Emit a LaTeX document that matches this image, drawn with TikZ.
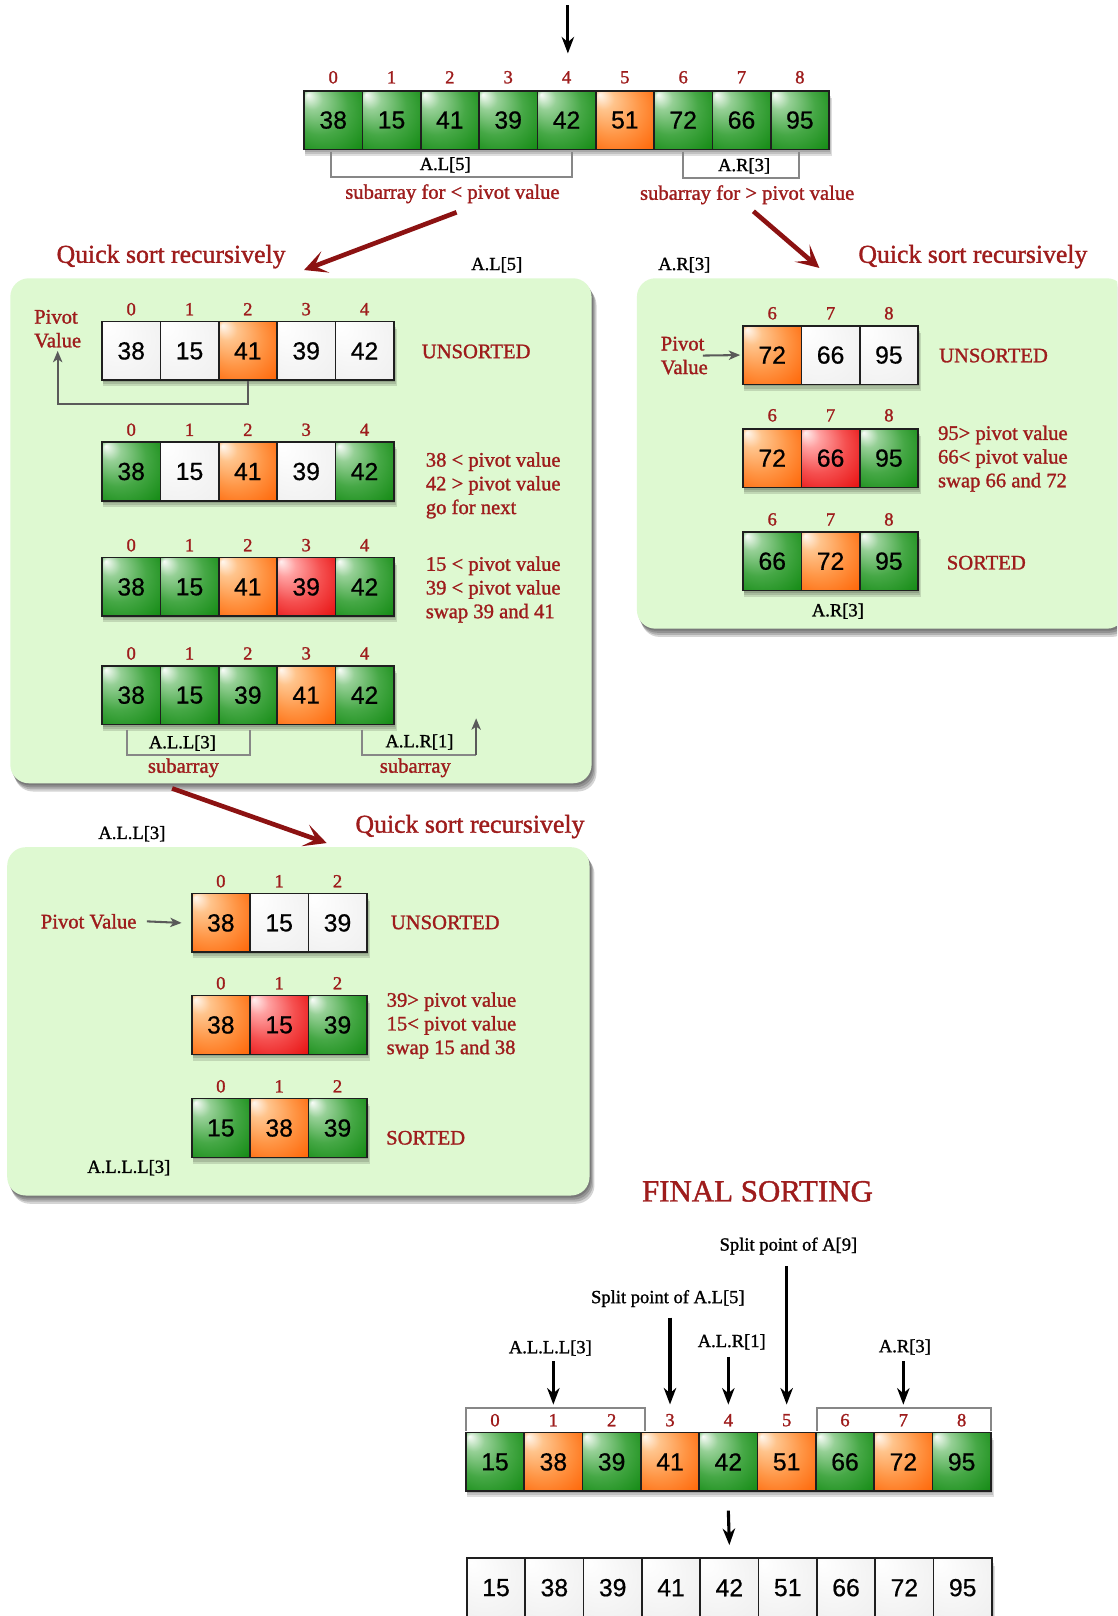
\documentclass[tikz,border=0pt]{standalone}
\usepackage{fontspec}
\setmainfont{Liberation Serif}[FakeBold=1.3]
\newfontfamily\cellfont{Liberation Sans}[FakeBold=0.6]
\usetikzlibrary{arrows.meta,calc}
\definecolor{dred}{RGB}{158,28,28}
\definecolor{arrred}{RGB}{140,18,18}
\definecolor{panelg}{RGB}{222,249,209}
\definecolor{brk}{RGB}{135,135,135}
\definecolor{garr}{RGB}{90,90,90}
\definecolor{gA}{RGB}{250,253,250}
\definecolor{gB}{RGB}{150,208,150}
\definecolor{gC}{RGB}{70,168,70}
\definecolor{gD}{RGB}{22,140,22}
\definecolor{oA}{RGB}{255,248,240}
\definecolor{oB}{RGB}{255,196,140}
\definecolor{oC}{RGB}{255,150,70}
\definecolor{oD}{RGB}{255,104,10}
\definecolor{rA}{RGB}{255,240,240}
\definecolor{rB}{RGB}{255,160,160}
\definecolor{rC}{RGB}{245,80,80}
\definecolor{rD}{RGB}{232,20,20}
\definecolor{wA}{RGB}{255,255,255}
\definecolor{wB}{RGB}{247,247,247}
\definecolor{wC}{RGB}{236,236,236}
\pgfdeclareradialshading{shG}{\pgfpoint{-22bp}{22bp}}{color(0bp)=(gA); color(9bp)=(gB); color(24bp)=(gC); color(40bp)=(gD); color(50bp)=(gD)}
\pgfdeclareradialshading{shO}{\pgfpoint{-22bp}{22bp}}{color(0bp)=(oA); color(9bp)=(oB); color(24bp)=(oC); color(40bp)=(oD); color(50bp)=(oD)}
\pgfdeclareradialshading{shR}{\pgfpoint{-22bp}{22bp}}{color(0bp)=(rA); color(9bp)=(rB); color(24bp)=(rC); color(40bp)=(rD); color(50bp)=(rD)}
\pgfdeclareradialshading{shW}{\pgfpoint{-22bp}{22bp}}{color(0bp)=(wA); color(20bp)=(wB); color(50bp)=(wC)}
\tikzset{
  cellbase/.style={draw=black!88, line width=1.6pt, minimum width=56.6pt, minimum height=57pt, inner sep=0pt, font=\cellfont\fontsize{24}{28}\selectfont},
  idx/.style={text=dred, font=\fontsize{18}{20}\selectfont, inner sep=0pt},
  rtxt/.style={text=dred, font=\fontsize{20}{23}\selectfont, inner sep=0pt, align=left},
  btxt/.style={text=black, font=\fontsize{18}{20}\selectfont, inner sep=0pt},
  qsr/.style={text=dred, font=\fontsize{25}{28}\selectfont, inner sep=0pt},
  brack/.style={draw=brk, line width=2pt},
  barr/.style={draw=black, line width=3pt, -{Stealth[length=16pt,width=12pt,inset=5pt]}},
  rarr/.style={draw=arrred, line width=4.5pt, -{Stealth[length=22pt,width=22pt,inset=11pt]}},
  garrow/.style={draw=garr, line width=2pt, -{Stealth[length=11pt,width=9pt,inset=3pt]}},
  panelbox/.style={fill=panelg, rounded corners=18pt},
}
\newcommand\cellrow[6]{%
  \foreach \dd in {2,4,6}{\fill[black,opacity=0.13] ({#2+1},{#3+\dd+1}) rectangle ({#2+#5*56.6+0.5*\dd},{#3+57+\dd});}%
  \foreach \v/\s/\ix [count=\k] in {#6}{%
    \node[cellbase, shade, shading=sh\s] (#1-\k) at ({#2+(\k-0.5)*56.6},{#3+28.5}) {\v};%
    \node[idx] (#1-i\k) at ({#2+(\k-0.5)*56.6},{#4}) {\ix};%
  }%
}
\newcommand\plainrow[5]{%
  \foreach \dd in {2,4,6}{\fill[black,opacity=0.13] ({#2+1},{#3+\dd+1}) rectangle ({#2+#4*56.6+0.5*\dd},{#3+57+\dd});}%
  \foreach \v [count=\k] in {#5}{%
    \node[cellbase, shade, shading=shW] (#1-\k) at ({#2+(\k-0.5)*56.6},{#3+28.5}) {\v};%
  }%
}
\newcommand\panelshadow[4]{%
  \foreach \dd in {2,4,6,8}{\fill[black,opacity=0.17,rounded corners=18pt] ({#1+0.5*\dd},{#2+\dd}) rectangle ({#3+0.6*\dd},{#4+\dd});}%
}
\begin{document}
\begin{tikzpicture}[x=1pt,y=-1pt]
\clip (0,0) rectangle (1084,1568);
\fill[white] (0,0) rectangle (1084,1568);

% ---------- panels ----------
\panelshadow{10}{270}{574}{760}
\fill[panelbox] (10,270) rectangle (574,760);
\panelshadow{618}{270}{1092}{610}
\fill[panelbox] (618,270) rectangle (1092,610);
\panelshadow{7}{822}{572}{1160}
\fill[panelbox] (7,822) rectangle (572,1160);

% ---------- top array ----------
\cellrow{t}{295}{88}{75}{9}{38/G/0,15/G/1,41/G/2,39/G/3,42/G/4,51/O/5,72/G/6,66/G/7,95/G/8}
\coordinate (tin) at (551,5);
\draw[barr, shorten >=17pt] (tin) -- (t-i5.north -| tin);
\draw[brack] (321,147) -- (321,172) -- (555,172) -- (555,147);
\draw[brack] (663,147) -- (663,173) -- (775,173) -- (775,147);
\node[btxt] (bAL5) at (432,160) {A.L[5]};
\node[btxt] (bAR3) at (722,161) {A.R[3]};
\node[rtxt] (s1) at (439,188) {subarray for < pivot value};
\node[rtxt] (s2) at (725,189) {subarray for > pivot value};

\coordinate (r1s) at (443,206);
\coordinate (r1e) at (295,262);
\draw[rarr] (r1s) -- (r1e);
\coordinate (r2s) at (731,205);
\coordinate (r2e) at (795,260);
\draw[rarr] (r2s) -- (r2e);

\node[qsr] (q1) at (166,249) {Quick sort recursively};
\node[btxt] (lAL5) at (482,257) {A.L[5]};
\node[btxt] (lAR3) at (664,257) {A.R[3]};
\node[qsr] (q2) at (944,249) {Quick sort recursively};

% ---------- left panel ----------
\cellrow{a}{99}{312}{300}{5}{38/W/0,15/W/1,41/O/2,39/W/3,42/W/4}
\cellrow{b}{99}{429}{417}{5}{38/G/0,15/W/1,41/O/2,39/W/3,42/G/4}
\cellrow{c}{99}{541}{529}{5}{38/G/0,15/G/1,41/O/2,39/R/3,42/G/4}
\cellrow{d}{99}{646}{634}{5}{38/G/0,15/G/1,39/G/2,41/O/3,42/G/4}
\node[rtxt, anchor=west] (pv1) at (33,319) {Pivot\\Value};
\draw[garrow, shorten >=3pt] (a-3.south) -- ++(0,22) -| (pv1.south);
\node[rtxt] (u1) at (462,341) {UNSORTED};
\node[rtxt, anchor=west] (t2) at (413,471) {38 < pivot value\\42 > pivot value\\go for next};
\node[rtxt, anchor=west] (t3) at (413,572) {15 < pivot value\\39 < pivot value\\swap 39 and 41};
\draw[brack] (123,708) -- (123,733) -- (243,733) -- (243,708);
\node[btxt] (all3a) at (177,721) {A.L.L[3]};
\node[rtxt] (sub1) at (178,745) {subarray};
\coordinate (alrtip) at (462,697);
\draw[brack] (351,708) -- (351,733) -- (462,733);
\draw[garrow] (462,733) -- (alrtip);
\node[btxt] (alr1) at (407,720) {A.L.R[1]};
\node[rtxt] (sub2) at (403,745) {subarray};

\coordinate (r3s) at (167,765);
\coordinate (r3e) at (317,818);
\draw[rarr] (r3s) -- (r3e);
\node[btxt] (all3) at (128,809) {A.L.L[3]};
\node[qsr] (q3) at (456,802) {Quick sort recursively};

% ---------- right panel ----------
\cellrow{e}{721}{316}{304}{3}{72/O/6,66/W/7,95/W/8}
\cellrow{f}{721}{416}{403}{3}{72/O/6,66/R/7,95/G/8}
\cellrow{g}{721}{516}{504}{3}{66/G/6,72/O/7,95/G/8}
\node[rtxt, anchor=west] (pv2) at (641,345) {Pivot\\Value};
\draw[garrow] ([xshift=-5pt]pv2.east) -- ([xshift=-2pt]e-1.west);
\node[rtxt] (u2) at (964,345) {UNSORTED};
\node[rtxt, anchor=west] (t5) at (910,445) {95> pivot value\\66< pivot value\\swap 66 and 72};
\node[rtxt] (so1) at (957,546) {SORTED};
\node[btxt] (ar3b) at (813,593) {A.R[3]};

% ---------- bottom-left panel ----------
\cellrow{h}{186}{867}{855}{3}{38/O/0,15/W/1,39/W/2}
\cellrow{k}{186}{966}{954}{3}{38/O/0,15/R/1,39/G/2}
\cellrow{m}{186}{1066}{1054}{3}{15/G/0,38/O/1,39/G/2}
\node[rtxt] (pv3) at (86,894) {Pivot Value};
\draw[garrow] ([xshift=10pt]pv3.east) -- ([xshift=-9pt]h-1.west);
\node[rtxt] (u3) at (432,895) {UNSORTED};
\node[rtxt, anchor=west] (t6) at (375,995) {39> pivot value\\15< pivot value\\swap 15 and 38};
\node[rtxt] (so2) at (413,1104) {SORTED};
\node[btxt] (alll3) at (125,1133) {A.L.L.L[3]};

% ---------- final sorting ----------
\node[text=dred, font=\fontsize{30}{34}\selectfont, inner sep=0pt] (fs) at (735,1156) {FINAL SORTING};
\cellrow{n}{452}{1390}{1378}{9}{15/G/0,38/O/1,39/G/2,41/O/3,42/G/4,51/O/5,66/G/6,72/O/7,95/G/8}
\draw[brack] (452,1388) -- (452,1366) -- (626,1366) -- (626,1388);
\draw[brack] (793,1388) -- (793,1366) -- (962,1366) -- (962,1388);
\node[btxt] (spA9) at (765,1209) {Split point of A[9]};
\node[btxt] (spAL5) at (648,1260) {Split point of A.L[5]};
\node[btxt] (falr1) at (710,1302) {A.L.R[1]};
\node[btxt] (fall3) at (534,1308) {A.L.L.L[3]};
\node[btxt] (far3) at (878,1307) {A.R[3]};
\draw[barr] ($(n-i6 |- spA9.south)+(0,11)$) -- ($(n-i6.north)+(0,-9)$);
\draw[barr] ($(n-i4 |- spAL5.south)+(0,10)$) -- ($(n-i4.north)+(0,-9)$);
\draw[barr] ($(n-i5 |- falr1.south)+(0,7)$) -- ($(n-i5.north)+(0,-9)$);
\draw[barr] ($(n-i2 |- fall3.south)+(0,5)$) -- ($(n-i2.north)+(0,-9)$);
\draw[barr] ($(n-i8 |- far3.south)+(0,6)$) -- ($(n-i8.north)+(0,-9)$);
\plainrow{p}{453}{1512}{9}{15,38,39,41,42,51,66,72,95}
\draw[barr] ([yshift=-18pt]n-5.south) -- ([yshift=12pt]p-5.north);
\end{tikzpicture}
\end{document}
